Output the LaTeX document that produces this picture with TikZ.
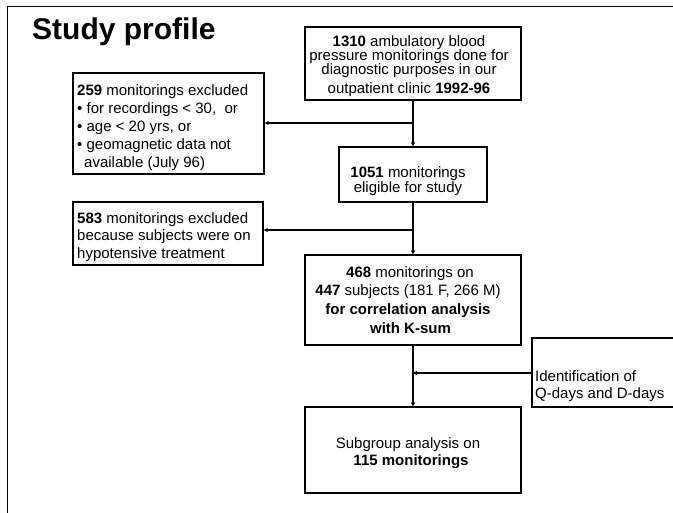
\documentclass[tikz,border=0pt]{standalone}
\usepackage{fontspec}
\setmainfont{Liberation Sans}
\usetikzlibrary{arrows.meta}
\begin{document}
\begin{tikzpicture}[x=1pt,y=-1pt,
  box/.style={draw, line width=1.4pt, inner sep=0pt},
  txt/.style={inner sep=0pt, font=\fontsize{15}{#1}\selectfont},
  ctxt/.style={txt=#1, align=center, anchor=north},
  ltxt/.style={txt=#1, align=left, anchor=north west},
  conn/.style={line width=1.9pt, -{Triangle[length=4pt,width=4pt]}}]
\useasboundingbox (0,0) rectangle (673,513);
\draw[line width=1.4pt] (7.3,513) -- (7.3,6.7) -- (673,6.7);
\node[anchor=base west, font=\bfseries\fontsize{30}{34}\selectfont, inner sep=0pt] (title) at (32,40) {Study profile};
% boxes
\node[box, minimum width=216pt, minimum height=73pt] (b1310) at (413,63.5) {};
\node[box, minimum width=191pt, minimum height=101pt] (b259) at (168.5,123.5) {};
\node[box, minimum width=148pt, minimum height=55pt] (b1051) at (413,174.5) {};
\node[box, minimum width=190pt, minimum height=63pt] (b583) at (168,233.5) {};
\node[box, minimum width=216pt, minimum height=90pt] (b468) at (413,300) {};
\node[box, minimum width=150pt, minimum height=69pt] (bid) at (607,372.5) {};
\node[box, minimum width=216pt, minimum height=86pt] (b115) at (413,450) {};
% texts
\node[ctxt=14] (t1310) at (409,35.8)
  {\textbf{1310} ambulatory blood\\pressure monitorings done for\\diagnostic purposes in our\\[4.7pt]outpatient clinic \textbf{1992-96}};
\node[ltxt=18] (t259) at (77,84.1)
  {\textbf{259} monitorings excluded\\\textbullet{} for recordings < 30,\ \ or\\\textbullet{} age < 20 yrs, or\\\textbullet{} geomagnetic data not\\\hspace*{7pt}available (July 96)};
\node[ctxt=15] (t1051) at (408,166.1)
  {\textbf{1051} monitorings\\eligible for study};
\node[ltxt=17.5] (t583) at (77,212.1)
  {\textbf{583} monitorings excluded\\because subjects were on\\hypotensive treatment};
\node[ctxt=18.7] (t468) at (408,266.1)
  {\hspace*{4pt}\textbf{468} monitorings on\\\textbf{447} subjects (181 F, 266 M)\\\textbf{for correlation analysis}\hspace*{7pt}\\\hspace*{5pt}\textbf{with K-sum}};
\node[ltxt=16.5] (tid) at (535,370.8)
  {Identification of\\Q-days and D-days};
\node[ctxt=17] (t115) at (408,437.1)
  {Subgroup analysis on\\\hspace*{6pt}\textbf{115 monitorings}};
% junctions
\coordinate (j1) at (413,123);
\coordinate (j2) at (413,230);
\coordinate (j3) at (413,373);
% connectors
\draw[conn] (b1310.south) -- (b1051.north);
\draw[conn] (j1) -- (j1 -| b259.east);
\draw[conn] (b1051.south) -- (b468.north);
\draw[conn] (j2) -- (j2 -| b583.east);
\draw[conn] (b468.south) -- (b115.north);
\draw[conn] (j3 -| bid.west) -- (j3);
\end{tikzpicture}
\end{document}
